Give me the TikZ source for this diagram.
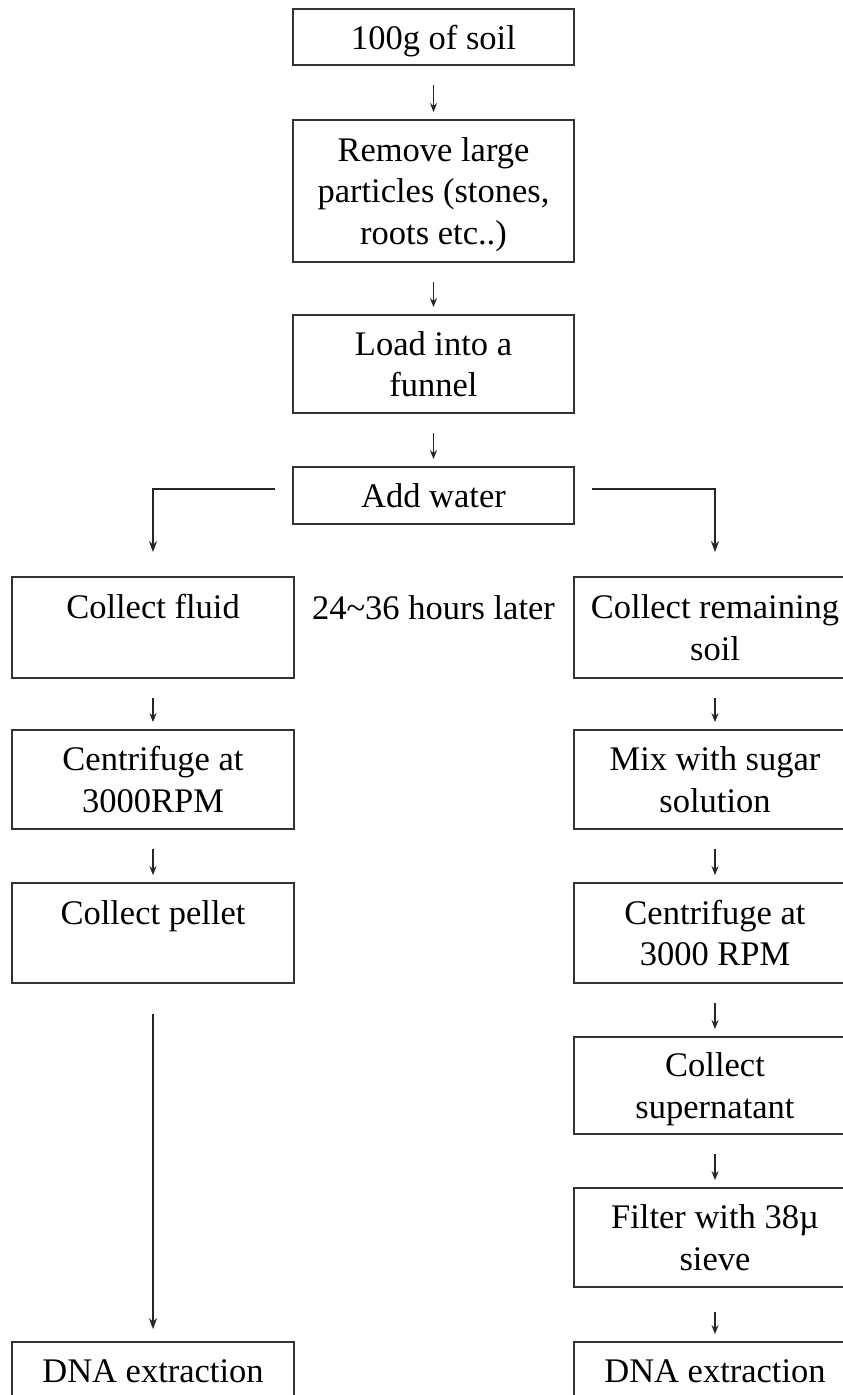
\documentclass[tikz,border=0pt]{standalone}
\usepackage{fontspec}
\setmainfont{Liberation Serif}
\usetikzlibrary{arrows.meta,calc}
\begin{document}
\begin{tikzpicture}[x=1pt,y=-1pt,
  box/.style={draw=black!80, line width=1.8pt, inner sep=0pt, align=center,
    minimum width=282pt, text depth=0pt, font=\fontsize{34.5}{41.5}\selectfont},
  gap/.style={draw=black!85, line width=1.5pt, -{Stealth[length=9pt,width=7pt]},
    shorten <=19pt, shorten >=7pt},
  longarr/.style={draw=black!85, line width=1.6pt, -{Stealth[length=11pt,width=8pt]}},
  lbl/.style={inner sep=0pt, font=\fontsize{34.5}{41.5}\selectfont}]
\useasboundingbox (0,0) rectangle (843,1395);
\clip (0,0) rectangle (843,1395);
% centre column
\node[box, minimum width=281pt, minimum height=56pt] (soil) at (433.5,37) {100g of soil};
\node[box, minimum width=281pt, minimum height=142pt] (remove) at (433.5,191) {Remove large\\particles (stones,\\roots etc..)};
\node[box, minimum width=281pt, minimum height=98pt] (funnel) at (433.5,364) {Load into a\\funnel};
\node[box, minimum width=281pt, minimum height=57pt] (water) at (433.5,495.5) {Add water};
% left column
\node[box, minimum height=101pt] (fluid) at (153,627.5) {Collect fluid\\\phantom{x}};
\node[box, minimum height=99pt] (cent1) at (153,779.5) {Centrifuge at\\3000RPM};
\node[box, minimum height=100pt] (pellet) at (153,933) {Collect pellet\\\phantom{x}};
\node[box, minimum height=100pt] (dna1) at (153,1392) {DNA extraction\\\phantom{x}};
% right column
\node[box, minimum height=101pt] (remain) at (715,627.5) {Collect remaining\\soil};
\node[box, minimum height=99pt] (mix) at (715,779.5) {Mix with sugar\\solution};
\node[box, minimum height=100pt] (cent2) at (715,933) {Centrifuge at\\3000 RPM};
\node[box, minimum height=97pt] (super) at (715,1085.5) {Collect\\supernatant};
\node[box, minimum height=99pt] (filter) at (715,1237.5) {Filter with 38µ\\sieve};
\node[box, minimum height=100pt] (dna2) at (715,1392) {DNA extraction\\\phantom{x}};
% label
\node[lbl] (later) at (433.5,608) {24\textasciitilde 36 hours later};
% connectors
\draw[gap] (soil) -- (remove);
\draw[gap] (remove) -- (funnel);
\draw[gap] (funnel) -- (water);
\draw[longarr] ([xshift=-17pt,yshift=6.5pt]water.west) -| ([yshift=24pt]fluid.north);
\draw[longarr] ([xshift=17pt,yshift=6.5pt]water.east) -| ([yshift=24pt]remain.north);
\draw[gap] (fluid) -- (cent1);
\draw[gap] (cent1) -- (pellet);
\draw[longarr, shorten <=30pt, shorten >=12pt] (pellet) -- (dna1);
\draw[gap] (remain) -- (mix);
\draw[gap] (mix) -- (cent2);
\draw[gap] (cent2) -- (super);
\draw[gap] (super) -- (filter);
\draw[gap, shorten <=24pt] (filter) -- (dna2);
\end{tikzpicture}
\end{document}
